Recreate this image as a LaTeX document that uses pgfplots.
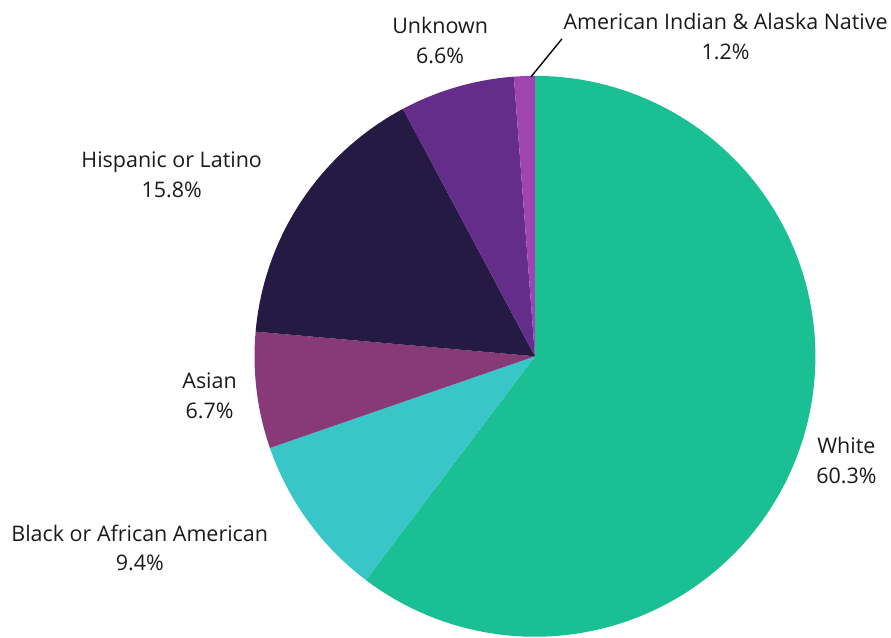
\documentclass[border=0pt]{standalone}
\usepackage{pgfplots}
\pgfplotsset{compat=1.18}
\usepackage{fontspec}
\setmainfont{Open Sans}
\definecolor{cWhite}{HTML}{1BBF94}
\definecolor{cBlack}{HTML}{38C6C8}
\definecolor{cAsian}{HTML}{883A78}
\definecolor{cHisp}{HTML}{241A44}
\definecolor{cUnk}{HTML}{642D8A}
\definecolor{cAIAN}{HTML}{A044B0}
\definecolor{txt}{HTML}{1A1A1A}
\begin{document}
\begin{tikzpicture}
\begin{axis}[
  scale only axis, width=891pt, height=639pt,
  xmin=0, xmax=891, ymin=0, ymax=639,
  hide axis, clip=false,
]
\path (rel axis cs:0,0) rectangle (rel axis cs:1,1);
% values (percent): White 60.3, Black 9.4, Asian 6.7, Hispanic 15.8, Unknown 6.6, AIAN 1.2
\def\cx{536}\def\cy{282}\def\r{281}
\addplot[fill=cWhite, draw=none, domain={90-3.6*(60.3)}:{90}, samples=120, variable=\t]
  ({\cx+\r*cos(\t)},{\cy+\r*sin(\t)}) -- (axis cs:\cx,\cy) -- cycle;
\addplot[fill=cBlack, draw=none, domain={90-3.6*(60.3+9.4)}:{90-3.6*(60.3)}, samples=30, variable=\t]
  ({\cx+\r*cos(\t)},{\cy+\r*sin(\t)}) -- (axis cs:\cx,\cy) -- cycle;
\addplot[fill=cAsian, draw=none, domain={90-3.6*(60.3+9.4+6.7)}:{90-3.6*(60.3+9.4)}, samples=30, variable=\t]
  ({\cx+\r*cos(\t)},{\cy+\r*sin(\t)}) -- (axis cs:\cx,\cy) -- cycle;
\addplot[fill=cHisp, draw=none, domain={90-3.6*(60.3+9.4+6.7+15.8)}:{90-3.6*(60.3+9.4+6.7)}, samples=40, variable=\t]
  ({\cx+\r*cos(\t)},{\cy+\r*sin(\t)}) -- (axis cs:\cx,\cy) -- cycle;
\addplot[fill=cUnk, draw=none, domain={90-3.6*(60.3+9.4+6.7+15.8+6.6)}:{90-3.6*(60.3+9.4+6.7+15.8)}, samples=30, variable=\t]
  ({\cx+\r*cos(\t)},{\cy+\r*sin(\t)}) -- (axis cs:\cx,\cy) -- cycle;
\addplot[fill=cAIAN, draw=none, domain={90-3.6*(60.3+9.4+6.7+15.8+6.6+1.2)}:{90-3.6*(60.3+9.4+6.7+15.8+6.6)}, samples=10, variable=\t]
  ({\cx+\r*cos(\t)},{\cy+\r*sin(\t)}) -- (axis cs:\cx,\cy) -- cycle;
% leader line
\addplot[black, line width=1.4pt] coordinates {(532,562) (563,600)};
\begin{scope}[every node/.style={align=center, text=txt, font=\fontsize{21.5}{30}\selectfont}]
\node at (axis cs:441,598) {Unknown\\6.6\%};
\node at (axis cs:727,602) {American Indian \& Alaska Native\\1.2\%};
\node at (axis cs:172,464) {Hispanic or Latino\\15.8\%};
\node at (axis cs:210,242) {Asian\\6.7\%};
\node at (axis cs:140,90) {Black or African American\\9.4\%};
\node at (axis cs:848,178) {White\\60.3\%};
\end{scope}
\end{axis}
\end{tikzpicture}
\end{document}
